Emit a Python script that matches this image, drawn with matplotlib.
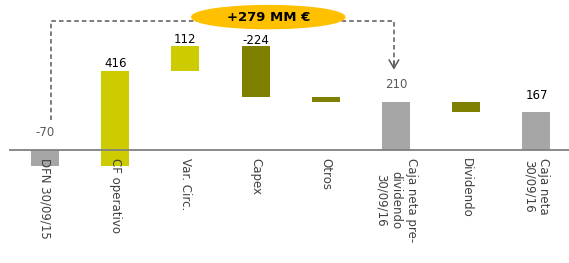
import numpy as np
import matplotlib.pyplot as plt
from matplotlib.patches import Ellipse

# Datos del puente de caja (MM €)
categorias = ['DFN 30/09/15', 'CF operativo', 'Var. Circ.', 'Capex', 'Otros',
              'Caja neta pre-\ndividendo\n30/09/16', 'Dividendo', 'Caja neta\n30/09/16']
valores = [-70, 416, 112, -224, -24, 210, -43, 167]
es_total = [True, False, False, False, False, True, False, True]
etiquetas = ['-70', '416', '112', '-224', '', '210', '', '167']
texto_burbuja = '+279 MM €'

GRIS = '#A6A6A6'
AMARILLO = '#CCCC00'
OLIVA = '#808000'

fig = plt.figure(figsize=(5.69, 2.63), dpi=100)
ax = fig.add_axes([9 / 569, 0, 1 - 9 / 569, 1])

# bases y alturas del waterfall
bases, alturas, colores = [], [], []
acum = 0
for v, tot in zip(valores, es_total):
    if tot:
        bases.append(0)
        alturas.append(v)
        acum = v
        colores.append(GRIS)
    else:
        bases.append(acum)
        alturas.append(v)
        acum += v
        colores.append(AMARILLO if v > 0 else OLIVA)

x = np.arange(len(categorias))
ax.bar(x, alturas, bottom=bases, width=0.4, color=colores, edgecolor='none', zorder=2)

ax.axhline(0, color='#808080', lw=1.3, zorder=3)

# etiquetas de valor
col_etq = ['#595959', 'black', 'black', 'black', 'black', '#595959', 'black', 'black']
off_etq = [8, 1, 0, -1, 0, 8, 0, 7]
for i, (b, h, t) in enumerate(zip(bases, alturas, etiquetas)):
    if not t:
        continue
    top = max(b, b + h, 0)
    ax.annotate(t, (x[i], top), xytext=(0, off_etq[i]), textcoords='offset points',
                ha='center', va='bottom', fontsize=8.5, color=col_etq[i])

# etiquetas de categoría (verticales)
for i, c in enumerate(categorias):
    ax.annotate(c, (x[i], 0), xytext=(0, -6), textcoords='offset points',
                rotation=270, ha='center', va='top', multialignment='center',
                fontsize=8.5, color='#404040')

# conector discontinuo con flecha
ax.plot([0.085, 0.085, 4.97, 4.97], [131, 567, 567, 360], ls='--', color='#595959',
        lw=1.1, dashes=(3, 2), zorder=1)
ax.annotate('', xy=(4.97, 340), xytext=(4.97, 400),
            arrowprops=dict(arrowstyle='->,head_width=0.35,head_length=0.6',
                            color='#595959', lw=1.1))

ax.add_patch(Ellipse((3.18, 583), width=2.18, height=101, color='#FFC000', zorder=4))
ax.text(3.18, 583, texto_burbuja, ha='center', va='center', fontsize=9.5,
        fontweight='bold', color='black', zorder=5)

ax.set_xlim(-0.513, 7.464)
ax.set_ylim(-496, 658)
ax.axis('off')

fig.savefig('out.png', dpi=100)
